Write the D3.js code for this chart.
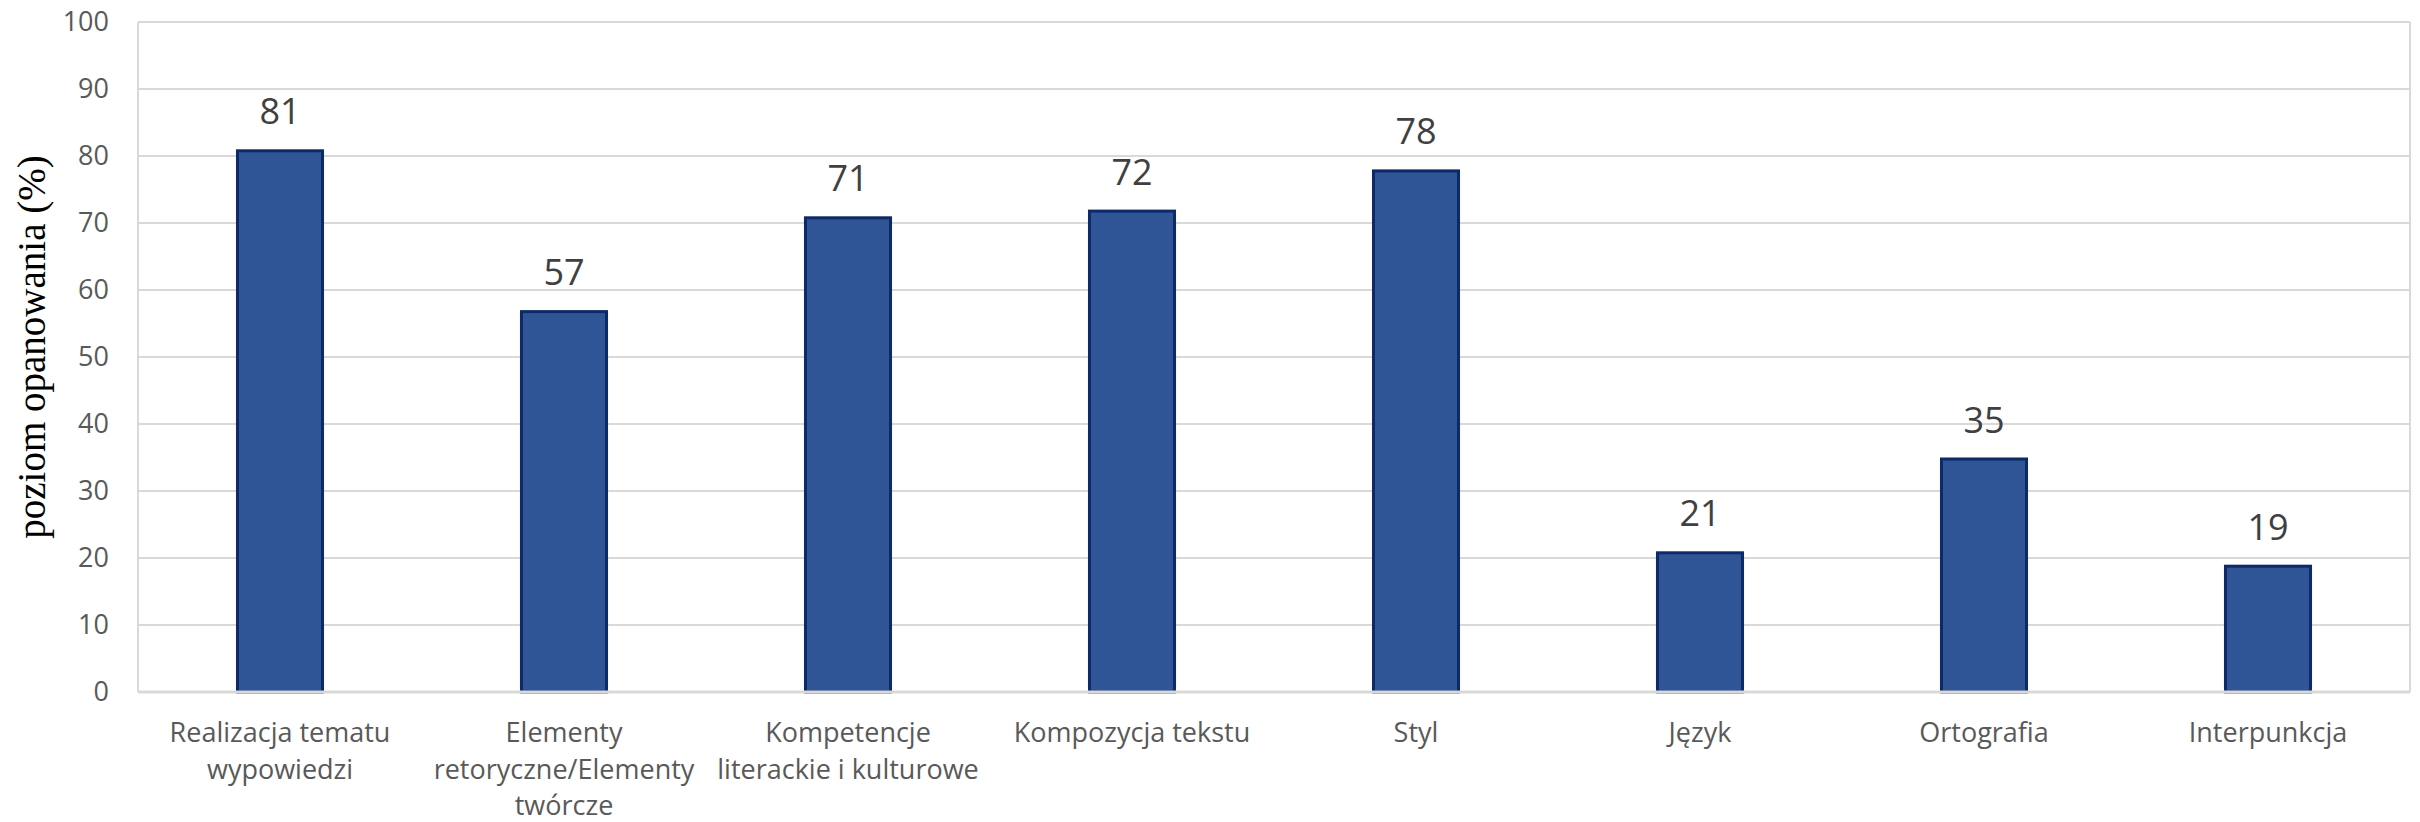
<!DOCTYPE html>
<html>
<head>
<meta charset="utf-8">
<script src="https://cdn.jsdelivr.net/npm/d3@7"></script>
<style>
  html, body { margin: 0; padding: 0; background: #fff; }
  svg { display: block; }
</style>
</head>
<body>
<svg id="chart" width="2420" height="822"></svg>
<script>
const categories = [
  ["Realizacja tematu", "wypowiedzi"],
  ["Elementy", "retoryczne/Elementy", "twórcze"],
  ["Kompetencje", "literackie i kulturowe"],
  ["Kompozycja tekstu"],
  ["Styl"],
  ["Język"],
  ["Ortografia"],
  ["Interpunkcja"]
];
const values = [81, 57, 71, 72, 78, 21, 35, 19];
const yTicks = [0, 10, 20, 30, 40, 50, 60, 70, 80, 90, 100];
const yTitle = "poziom opanowania (%)";

const svg = d3.select("#chart");
const margin = { left: 138, right: 10, top: 22, bottom: 130 };
const W = 2420, H = 822;
const x0 = margin.left, x1 = W - margin.right;
const yTop = margin.top, yBot = H - margin.bottom;

const keys = categories.map((d, i) => i);
const x = d3.scaleBand().domain(keys).range([x0, x1]).paddingInner(0.69).paddingOuter(0.345);
const y = d3.scaleLinear().domain([0, 100]).range([yBot, yTop]);

// gridlines
svg.append("g").selectAll("line").data(yTicks.filter(t => t > 0)).join("line")
  .attr("x1", x0).attr("x2", x1)
  .attr("y1", d => y(d)).attr("y2", d => y(d))
  .attr("stroke", "#d9d9d9").attr("stroke-width", 2);

// plot border left/right
svg.append("line").attr("x1", x0).attr("x2", x0).attr("y1", yTop).attr("y2", yBot)
  .attr("stroke", "#d9d9d9").attr("stroke-width", 2);
svg.append("line").attr("x1", x1).attr("x2", x1).attr("y1", yTop).attr("y2", yBot)
  .attr("stroke", "#d9d9d9").attr("stroke-width", 2);

// y axis labels
const yAxis = d3.axisLeft(y).tickValues(yTicks).tickSize(0).tickPadding(29);
const gy = svg.append("g").attr("transform", `translate(${x0},0)`).call(yAxis);
gy.select(".domain").remove();
gy.selectAll("text")
  .attr("font-family", "'Open Sans', sans-serif")
  .attr("font-size", 27)
  .attr("fill", "#595959");

// bars
svg.append("g").selectAll("rect").data(values).join("rect")
  .attr("x", (d, i) => x(i) + 1.5)
  .attr("width", x.bandwidth() - 3)
  .attr("y", d => y(d) + 1.5)
  .attr("height", d => yBot - y(d) - 1.5)
  .attr("fill", "#2f5597")
  .attr("stroke", "#0d2a66")
  .attr("stroke-width", 3);

// x axis baseline
svg.append("line").attr("x1", x0).attr("x2", x1).attr("y1", yBot).attr("y2", yBot)
  .attr("stroke", "#d9d9d9").attr("stroke-width", 3);

// data labels
svg.append("g").selectAll("text").data(values).join("text")
  .attr("x", (d, i) => x(i) + x.bandwidth() / 2)
  .attr("y", d => y(d) - 25)
  .attr("text-anchor", "middle")
  .attr("font-family", "'Open Sans', sans-serif")
  .attr("font-size", 36)
  .attr("fill", "#404040")
  .text(d => d);

// x category labels
const xl = svg.append("g").selectAll("g").data(categories).join("g")
  .attr("transform", (d, i) => `translate(${x(i) + x.bandwidth() / 2},${yBot + 50})`);
xl.each(function(lines) {
  d3.select(this).selectAll("text").data(lines).join("text")
    .attr("x", 0)
    .attr("y", (d, j) => j * 36.5)
    .attr("text-anchor", "middle")
    .attr("font-family", "'Open Sans', sans-serif")
    .attr("font-size", 27)
    .attr("fill", "#595959")
    .text(d => d);
});

// y title
svg.append("text")
  .attr("transform", `translate(45,${(yTop + yBot) / 2 - 10}) rotate(-90)`)
  .attr("text-anchor", "middle")
  .attr("font-family", "'Liberation Serif', 'Times New Roman', serif")
  .attr("font-size", 39)
  .attr("fill", "#000")
  .text(yTitle);
</script>
</body>
</html>
